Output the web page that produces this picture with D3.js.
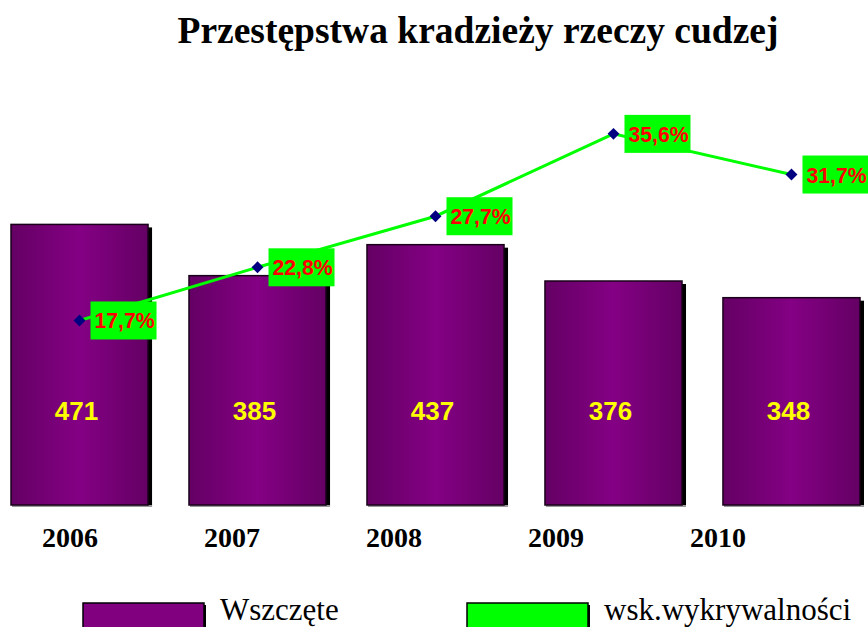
<!DOCTYPE html>
<html>
<head>
<meta charset="utf-8">
<script src="https://cdn.jsdelivr.net/npm/d3@7"></script>
<style>
  body { margin: 0; background: #fff; }
  svg { display: block; }
</style>
</head>
<body>
<svg id="chart" width="868" height="627"></svg>
<script>
// chart data
const years = ['2006', '2007', '2008', '2009', '2010'];
const wszczete = [471, 385, 437, 376, 348];
const wykrywalnosc = [17.7, 22.8, 27.7, 35.6, 31.7];
const legendLabels = ['Wszczęte', 'wsk.wykrywalności'];

const svg = d3.select('#chart');

const x = d3.scaleBand()
    .domain(years)
    .range([11, 860])
    .paddingInner(0.23)
    .paddingOuter(0);

const yBar = d3.scaleLinear().domain([0, 700]).range([505, 88]);
const yPct = d3.scaleLinear().domain([0, 40]).range([505, 88]);

// year labels sit a bit left of the bars in the original
const xLabel = d3.scalePoint().domain(years).range([70, 718]);

// horizontal gradient for the bars
const defs = svg.append('defs');
const grad = defs.append('linearGradient')
    .attr('id', 'barGrad')
    .attr('x1', '0%').attr('x2', '100%').attr('y1', '0%').attr('y2', '0%');
grad.append('stop').attr('offset', '0%').attr('stop-color', '#640064');
grad.append('stop').attr('offset', '50%').attr('stop-color', '#840084');
grad.append('stop').attr('offset', '100%').attr('stop-color', '#640064');

// title
svg.append('text')
    .attr('x', 478)
    .attr('y', 43)
    .attr('text-anchor', 'middle')
    .attr('font-family', '"Liberation Serif", "Times New Roman", serif')
    .attr('font-weight', 'bold')
    .attr('font-size', 37)
    .attr('textLength', 601)
    .attr('lengthAdjust', 'spacingAndGlyphs')
    .text('Przestępstwa kradzieży rzeczy cudzej');

const barData = years.map((y, i) => ({ year: y, value: wszczete[i] }));

// bar shadows
svg.append('g')
    .selectAll('rect')
    .data(barData)
    .enter()
    .append('rect')
    .attr('x', d => x(d.year) + 4)
    .attr('y', d => yBar(d.value) + 3)
    .attr('width', x.bandwidth())
    .attr('height', d => yBar(0) - yBar(d.value) - 2)
    .attr('fill', '#000');

svg.append('g')
    .selectAll('rect')
    .data(barData)
    .enter()
    .append('rect')
    .attr('x', d => x(d.year) + 1)
    .attr('y', 505)
    .attr('width', x.bandwidth() + 3)
    .attr('height', 2)
    .attr('fill', '#999');

// bars
svg.append('g')
    .selectAll('rect')
    .data(barData)
    .enter()
    .append('rect')
    .attr('x', d => x(d.year))
    .attr('y', d => yBar(d.value))
    .attr('width', x.bandwidth())
    .attr('height', d => yBar(0) - yBar(d.value))
    .attr('fill', 'url(#barGrad)')
    .attr('stroke', '#1a001a')
    .attr('stroke-width', 1.5);

// bar values
svg.append('g')
    .selectAll('text')
    .data(barData)
    .enter()
    .append('text')
    .attr('x', d => x(d.year) + x.bandwidth() / 2 - 3)
    .attr('y', 420)
    .attr('text-anchor', 'middle')
    .attr('font-family', '"Liberation Sans", Arial, sans-serif')
    .attr('font-weight', 'bold')
    .attr('font-size', 26)
    .attr('fill', '#ffff00')
    .text(d => d.value);

// line
const lineData = years.map((y, i) => ({ year: y, value: wykrywalnosc[i] }));
const cx = d => x(d.year) + x.bandwidth() / 2;

svg.append('path')
    .datum(lineData)
    .attr('d', d3.line().x(cx).y(d => yPct(d.value)))
    .attr('fill', 'none')
    .attr('stroke', '#00ff00')
    .attr('stroke-width', 3);

// line labels: green boxes with red text
const lbl = svg.append('g')
    .selectAll('g')
    .data(lineData)
    .enter()
    .append('g')
    .attr('transform', d => `translate(${cx(d) + 11},${yPct(d.value) - 19})`);

lbl.append('rect')
    .attr('width', 66)
    .attr('height', 38)
    .attr('fill', '#00ff00');

lbl.append('text')
    .attr('x', 34)
    .attr('y', 27)
    .attr('text-anchor', 'middle')
    .attr('font-family', '"Liberation Sans", Arial, sans-serif')
    .attr('font-weight', 'bold')
    .attr('font-size', 22)
    .attr('textLength', 60)
    .attr('lengthAdjust', 'spacingAndGlyphs')
    .attr('fill', '#ff0000')
    .text(d => d.value.toFixed(1).replace('.', ',') + '%');

// diamond markers
svg.append('g')
    .selectAll('path')
    .data(lineData)
    .enter()
    .append('path')
    .attr('d', d3.symbol().type(d3.symbolDiamond2).size(90))
    .attr('transform', d => `translate(${cx(d)},${yPct(d.value)})`)
    .attr('fill', '#000080');

// year labels
svg.append('g')
    .selectAll('text')
    .data(years)
    .enter()
    .append('text')
    .attr('x', d => xLabel(d))
    .attr('y', 547)
    .attr('text-anchor', 'middle')
    .attr('font-family', '"Liberation Serif", "Times New Roman", serif')
    .attr('font-weight', 'bold')
    .attr('font-size', 28)
    .text(d => d);

// legend
const legendColors = ['#800080', '#00ff00'];
const legendX = [83, 467];
const leg = svg.append('g')
    .selectAll('g')
    .data(legendLabels)
    .enter()
    .append('g')
    .attr('transform', (d, i) => `translate(${legendX[i]},603)`);

leg.append('rect')
    .attr('x', 2).attr('y', 2)
    .attr('width', 121).attr('height', 30)
    .attr('fill', '#000');

leg.append('rect')
    .attr('width', 121).attr('height', 30)
    .attr('fill', (d, i) => legendColors[i])
    .attr('stroke', '#000')
    .attr('stroke-width', 1.5);

leg.append('text')
    .attr('x', 137)
    .attr('y', 17)
    .attr('font-family', '"Liberation Serif", "Times New Roman", serif')
    .attr('font-size', 31)
    .attr('fill', '#000')
    .text(d => d);
</script>
</body>
</html>
